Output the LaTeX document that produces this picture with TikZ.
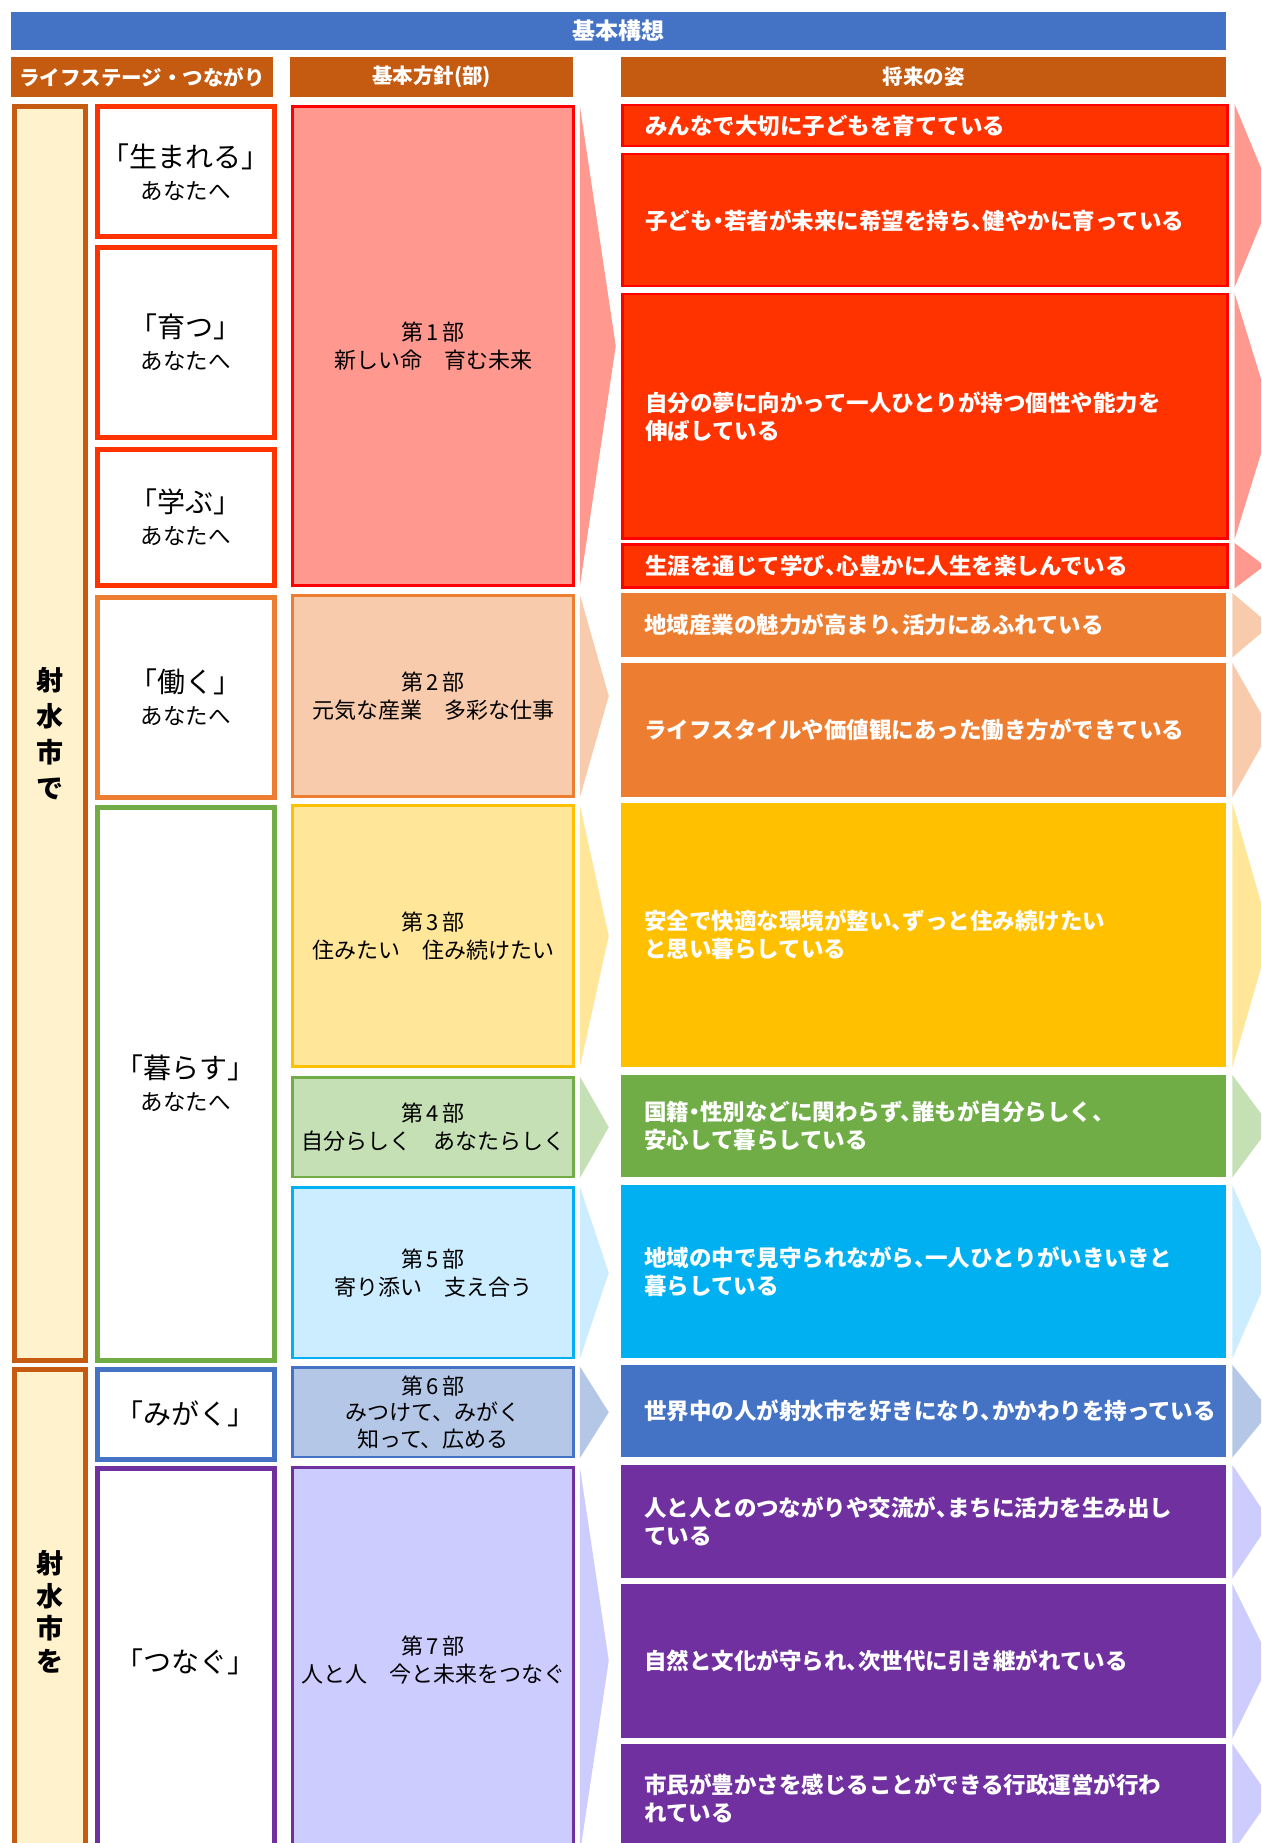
\documentclass[tikz,border=0pt]{standalone}
\usepackage{fontspec}
\setmainfont{Noto Sans CJK JP}
\newfontfamily\goalfont[RawFeature=+halt]{Noto Sans CJK JP}
\usetikzlibrary{calc}

\begin{document}
\begin{tikzpicture}[x=1pt, y=-1pt,
  bar/.style={fill=titleblue, text=white, anchor=north west, inner sep=0, font=\bfseries\fontsize{23}{26}\selectfont},
  head/.style={fill=headbrown, text=white, anchor=north west, inner sep=0, minimum height=40, font=\bfseries\fontsize{20.5}{24}\selectfont},
  city/.style={draw=headbrown, fill=cityfill, line width=5, anchor=north west, minimum width=71, inner sep=0, align=center, font=\bfseries\fontsize{27}{36}\selectfont},
  stage/.style={draw, fill=white, line width=5, anchor=north west, minimum width=177, inner sep=0, align=center, font=\fontsize{28}{32}\selectfont},
  part/.style={draw, line width=2.5, anchor=north west, minimum width=281, inner sep=0, align=center, font=\fontsize{22}{28}\selectfont},
  goal/.style={anchor=north west, minimum width=605, text width=559, inner xsep=23, inner ysep=0, align=left, text=white, font=\goalfont\bfseries\fontsize{22.5}{28}\selectfont},
  redgoal/.style={goal, fill=redfill, draw=pured, line width=2.5}
]

% Colors
\definecolor{titleblue}{RGB}{68,114,196}   % title bar
\definecolor{headbrown}{RGB}{197,90,17}    % headers
\definecolor{cityfill}{RGB}{255,242,204}   % city column
\definecolor{pured}{RGB}{255,0,0}          % red line
\definecolor{redfill}{RGB}{255,51,0}
\definecolor{redlight}{RGB}{255,153,143}
\definecolor{orangefill}{RGB}{237,125,49}
\definecolor{orangelight}{RGB}{248,203,173}
\definecolor{yellowfill}{RGB}{255,192,0}
\definecolor{yellowlight}{RGB}{255,230,153}
\definecolor{greenfill}{RGB}{112,173,71}
\definecolor{greenlight}{RGB}{197,224,180}
\definecolor{cyanfill}{RGB}{0,176,240}
\definecolor{cyanlight}{RGB}{204,236,255}
\definecolor{bluefill}{RGB}{68,114,196}
\definecolor{bluelight}{RGB}{180,199,231}
\definecolor{purplefill}{RGB}{112,48,160}
\definecolor{purplelight}{RGB}{204,204,255}

\useasboundingbox (0,0) rectangle (1261,1843);
\clip (0,0) rectangle (1261,1843);

% === TITLE ===
\node[bar, minimum width=1215, minimum height=38] (title) at (11,12) {基本構想};

% === HEADERS ===
\node[head, minimum width=262] (hstage) at (11,57) {ライフステージ・つながり};
\node[head, minimum width=283] (hpart) at (290,57) {基本方針(部)};
\node[head, minimum width=605] (hgoal) at (621,57) {将来の姿};

% === CITY ===
\node[city, minimum height=1253] (cityA) at (11.5,104.5) {射\\水\\市\\で};
\node[city, minimum height=486, font=\bfseries\fontsize{27}{32.5}\selectfont] (cityB) at (11.5,1366.5) {射\\水\\市\\を};

% === LIFE STAGES ===
\node[stage, draw=redfill, minimum height=130] (born) at (94.5,104.5) {「生まれる」\\{\fontsize{22.5}{26}\selectfont あなたへ}};
\node[stage, draw=redfill, minimum height=189] (grow) at (94.5,245.5) {「育つ」\\{\fontsize{22.5}{26}\selectfont あなたへ}};
\node[stage, draw=redfill, minimum height=136] (learn) at (94.5,446.5) {「学ぶ」\\{\fontsize{22.5}{26}\selectfont あなたへ}};
\node[stage, draw=orangefill, minimum height=200] (work) at (94.5,594.5) {「働く」\\{\fontsize{22.5}{26}\selectfont あなたへ}};
\node[stage, draw=greenfill, minimum height=553] (live) at (94.5,804.5) {「暮らす」\\{\fontsize{22.5}{26}\selectfont あなたへ}};
\node[stage, draw=bluefill, minimum height=90] (polish) at (94.5,1366.5) {「みがく」};
\node[stage, draw=purplefill, minimum height=387] (link) at (94.5,1465.5) {「つなぐ」};

% === PARTS ===
\node[part, fill=redlight, draw=pured, minimum height=479] (part1) at (291.25,105.25) {第\,1\,部\\新しい命　育む未来};
\node[part, fill=orangelight, draw=orangefill, minimum height=201] (part2) at (291.25,594.25) {第\,2\,部\\元気な産業　多彩な仕事};
\node[part, fill=yellowlight, draw=yellowfill, minimum height=261] (part3) at (291.25,804.25) {第\,3\,部\\住みたい　住み続けたい};
\node[part, fill=greenlight, draw=greenfill, minimum height=99.5] (part4) at (291.25,1076.25) {第\,4\,部\\自分らしく　あなたらしく};
\node[part, fill=cyanlight, draw=cyanfill, minimum height=170.5] (part5) at (291.25,1186.25) {第\,5\,部\\寄り添い　支え合う};
\node[part, fill=bluelight, draw=bluefill, minimum height=89.5, font=\fontsize{22}{26.5}\selectfont] (part6) at (291.25,1366.25) {第\,6\,部\\みつけて、みがく\\知って、広める};
\node[part, fill=purplelight, draw=purplefill, minimum height=386] (part7) at (291.25,1466.25) {第\,7\,部\\人と人　今と未来をつなぐ};

% === GOALS ===
\node[redgoal, minimum height=41] (goal1) at (621,104) {みんなで大切に子どもを育てている};
\node[redgoal, minimum height=132] (goal2) at (621,153) {子ども・若者が未来に希望を持ち、健やかに育っている};
\node[redgoal, minimum height=244] (goal3) at (621,293) {自分の夢に向かって一人ひとりが持つ個性や能力を\\伸ばしている};
\node[redgoal, minimum height=43] (goal4) at (621,543) {生涯を通じて学び、心豊かに人生を楽しんでいる};
\node[goal, fill=orangefill, minimum height=64] (goal5) at (621,593) {地域産業の魅力が高まり、活力にあふれている};
\node[goal, fill=orangefill, minimum height=134] (goal6) at (621,663) {ライフスタイルや価値観にあった働き方ができている};
\node[goal, fill=yellowfill, minimum height=264] (goal7) at (621,803) {安全で快適な環境が整い、ずっと住み続けたい\\と思い暮らしている};
\node[goal, fill=greenfill, minimum height=102] (goal8) at (621,1075) {国籍・性別などに関わらず、誰もが自分らしく、\\安心して暮らしている};
\node[goal, fill=cyanfill, minimum height=173] (goal9) at (621,1185) {地域の中で見守られながら、一人ひとりがいきいきと\\暮らしている};
\node[goal, fill=bluefill, minimum height=92] (goal10) at (621,1365) {世界中の人が射水市を好きになり、かかわりを持っている};
\node[goal, fill=purplefill, minimum height=113] (goal11) at (621,1465) {人と人とのつながりや交流が、まちに活力を生み出し\\ている};
\node[goal, fill=purplefill, minimum height=154] (goal12) at (621,1584) {自然と文化が守られ、次世代に引き継がれている};
\node[goal, fill=purplefill, minimum height=108] (goal13) at (621,1744) {市民が豊かさを感じることができる行政運営が行わ\\れている};

% === ARROWS: parts -> goals ===
\fill[redlight] ($(part1.north east)+(5,0)$) -- ($(part1.east)+(41,0)$) -- ($(part1.south east)+(5,0)$) -- cycle;
\fill[orangelight] ($(part2.north east)+(5,0)$) -- ($(part2.east)+(34,0)$) -- ($(part2.south east)+(5,0)$) -- cycle;
\fill[yellowlight] ($(part3.north east)+(5,0)$) -- ($(part3.east)+(34,0)$) -- ($(part3.south east)+(5,0)$) -- cycle;
\fill[greenlight] ($(part4.north east)+(5,0)$) -- ($(part4.east)+(34,0)$) -- ($(part4.south east)+(5,0)$) -- cycle;
\fill[cyanlight] ($(part5.north east)+(5,0)$) -- ($(part5.east)+(34,0)$) -- ($(part5.south east)+(5,0)$) -- cycle;
\fill[bluelight] ($(part6.north east)+(5,0)$) -- ($(part6.east)+(34,0)$) -- ($(part6.south east)+(5,0)$) -- cycle;
\fill[purplelight] ($(part7.north east)+(5,0)$) -- ($(part7.east)+(34,0)$) -- ($(part7.south east)+(5,0)$) -- cycle;

% === ARROWS: goals -> next ===
\fill[redlight] ($(goal1.north east)+(6,0)$) -- ($(goal1.north east)!0.5!(goal2.south east)+(44,0)$) -- ($(goal2.south east)+(6,0)$) -- cycle;
\fill[redlight] ($(goal3.north east)+(6,0)$) -- ($(goal3.east)+(44,0)$) -- ($(goal3.south east)+(6,0)$) -- cycle;
\fill[redlight] ($(goal4.north east)+(6,0)$) -- ($(goal4.east)+(36,0)$) -- ($(goal4.south east)+(6,0)$) -- cycle;
\fill[orangelight] ($(goal5.north east)+(6,0)$) -- ($(goal5.east)+(44,0)$) -- ($(goal5.south east)+(6,0)$) -- cycle;
\fill[orangelight] ($(goal6.north east)+(6,0)$) -- ($(goal6.east)+(44,0)$) -- ($(goal6.south east)+(6,0)$) -- cycle;
\fill[yellowlight] ($(goal7.north east)+(6,0)$) -- ($(goal7.east)+(44,0)$) -- ($(goal7.south east)+(6,0)$) -- cycle;
\fill[greenlight] ($(goal8.north east)+(6,0)$) -- ($(goal8.east)+(44,0)$) -- ($(goal8.south east)+(6,0)$) -- cycle;
\fill[cyanlight] ($(goal9.north east)+(6,0)$) -- ($(goal9.east)+(44,0)$) -- ($(goal9.south east)+(6,0)$) -- cycle;
\fill[bluelight] ($(goal10.north east)+(6,0)$) -- ($(goal10.east)+(44,0)$) -- ($(goal10.south east)+(6,0)$) -- cycle;
\fill[purplelight] ($(goal11.north east)+(6,0)$) -- ($(goal11.east)+(44,0)$) -- ($(goal11.south east)+(6,0)$) -- cycle;
\fill[purplelight] ($(goal12.north east)+(6,0)$) -- ($(goal12.east)+(44,0)$) -- ($(goal12.south east)+(6,0)$) -- cycle;
\fill[purplelight] ($(goal13.north east)+(6,0)$) -- ($(goal13.east)+(44,0)$) -- ($(goal13.south east)+(6,0)$) -- cycle;

\end{tikzpicture}
\end{document}
